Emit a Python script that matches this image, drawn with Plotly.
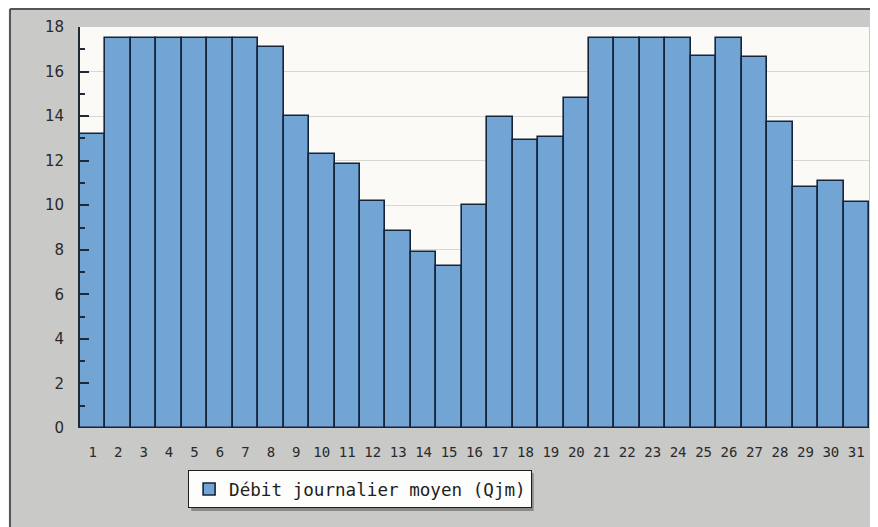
import plotly.graph_objects as go

# jours du mois et débit journalier moyen (Qjm)
jours = list(range(1, 32))
qjm = [13.2, 17.5, 17.5, 17.5, 17.5, 17.5, 17.5, 17.1, 14.0, 12.3,
       11.85, 10.2, 8.85, 7.9, 7.25, 10.0, 13.95, 12.95, 13.05, 14.8,
       17.5, 17.5, 17.5, 17.5, 16.7, 17.5, 16.65, 13.75, 10.8, 11.1,
       10.15]
y_ticks = list(range(0, 19, 2))
serie = 'Débit journalier moyen (Qjm)'

mono = 'DejaVu Sans Mono'
gris = '#c9c9c7'
clair = '#f3f2ee'

fig = go.Figure()
fig.add_trace(go.Bar(
    x=jours, y=qjm, name=serie,
    marker=dict(color='#72a5d4', line=dict(color='#16243a', width=1.6)),
    showlegend=True,
))

# la page html a une marge de 8px : on la compense ici
fig.update_layout(
    width=863, height=519,
    margin=dict(l=72, r=2, t=19, b=99),
    paper_bgcolor=gris,
    plot_bgcolor='#fbfaf6',
    bargap=0,
    showlegend=True,
    legend=dict(
        x=0.137, y=-0.105, xanchor='left', yanchor='top',
        bgcolor='#fdfdfb', bordercolor='#1e1e1e', borderwidth=1,
        font=dict(family=mono, size=17.6, color='#1e1e1e'),
        itemwidth=30,
    ),
    xaxis=dict(
        range=[0.5, 31.5], tickmode='array', tickvals=jours,
        ticks='', showgrid=False, showline=False, zeroline=False,
        ticklabelstandoff=14,
        tickfont=dict(family=mono, size=14, color='#2a2a2a'),
    ),
    yaxis=dict(
        range=[0, 18], tickmode='array', tickvals=y_ticks,
        ticks='inside', ticklen=9, tickwidth=2, tickcolor='#1e2a38',
        minor=dict(dtick=1, ticks='inside', ticklen=5, tickwidth=2,
                   tickcolor='#1e2a38', showgrid=False),
        showline=True, linecolor='#1e2a38', linewidth=2,
        showgrid=True, gridcolor='#d6d6d2', gridwidth=1,
        zeroline=False, ticklabelstandoff=11,
        tickfont=dict(family='DejaVu Sans', size=15, color='#2a2a2a'),
    ),
    shapes=[
        # marge claire hors du cadre
        dict(type='rect', xref='paper', yref='paper', x0=-0.2, x1=1.1,
             y0=1.045, y1=1.2, fillcolor=clair, line=dict(width=0),
             layer='below'),
        dict(type='rect', xref='paper', yref='paper', x0=-0.2, x1=-0.0887,
             y0=-0.3, y1=1.2, fillcolor=clair, line=dict(width=0),
             layer='below'),
        # bordure du cadre
        dict(type='line', xref='paper', yref='paper', x0=-0.0887, x1=1.1,
             y0=1.045, y1=1.045, line=dict(color='#555', width=2)),
        dict(type='line', xref='paper', yref='paper', x0=-0.0887, x1=-0.0887,
             y0=-0.3, y1=1.045, line=dict(color='#555', width=2)),
        # ombre de la légende
        dict(type='rect', xref='paper', yref='paper', x0=0.141, x1=0.575,
             y0=-0.207, y1=-0.112, fillcolor='#8a8a88', line=dict(width=0),
             layer='below'),
    ],
)

fig.write_html('out.html')
